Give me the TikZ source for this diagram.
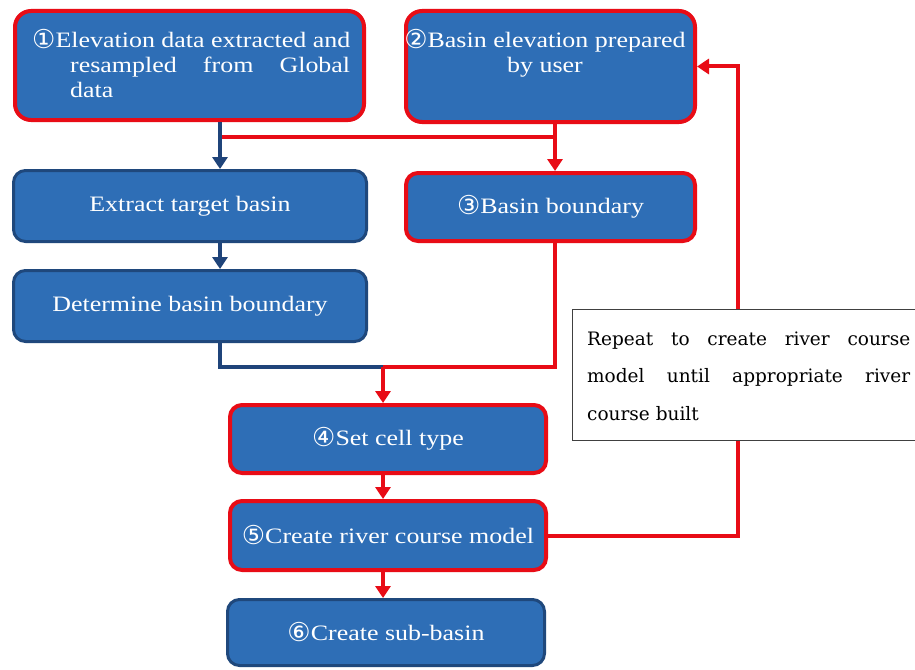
\documentclass[tikz,border=0pt]{standalone}
\usepackage{fontspec}
\setmainfont{Liberation Serif}
\newfontfamily\boxfont[FakeStretch=1.18]{Liberation Serif}
\newfontfamily\circfont{DejaVu Sans}
\newfontfamily\notefont{DejaVu Serif}
\usetikzlibrary{arrows.meta}
\definecolor{boxblue}{RGB}{46,110,182}
\definecolor{edgeblue}{RGB}{31,72,124}
\definecolor{linkblue}{RGB}{31,68,122}
\definecolor{linkred}{RGB}{232,12,22}
% circled step numbers
\newcommand{\stepno}[1]{{\circfont\fontsize{26}{25}\selectfont\raisebox{-1pt}{#1}}}

\begin{document}
\begin{tikzpicture}[x=1pt,y=-1pt,
  flowbox/.style={draw=edgeblue, line width=3pt, fill=boxblue, rounded corners=12pt,
    text=white, font=\boxfont\fontsize{22}{25}\selectfont, inner sep=0pt},
  userbox/.style={flowbox, draw=linkred, line width=4pt},
  boxtext/.style={text=white, font=\boxfont\fontsize{22}{25}\selectfont, inner sep=0pt},
  bluelink/.style={draw=linkblue, line width=3.5pt},
  redlink/.style={draw=linkred, line width=4pt},
  tip/.style={-{Triangle[width=15pt,length=12pt]}},
]
\useasboundingbox (0,0) rectangle (915,669);
\fill[white] (0,0) rectangle (915,669);

% ---- boxes ----
\node[userbox, rounded corners=16pt, minimum width=349pt, minimum height=109pt] (src1) at (189.5,65.5) {};
\node[userbox, rounded corners=16pt, minimum width=289pt, minimum height=111pt] (src2) at (550.5,66.5) {};
\node[flowbox, minimum width=353pt, minimum height=71pt] (ext) at (190,206) {Extract target basin};
\node[userbox, minimum width=289pt, minimum height=68pt] (bd3) at (550.5,207) {\stepno{③}Basin boundary};
\node[flowbox, minimum width=353pt, minimum height=71pt] (det) at (190,306) {Determine basin boundary};
\node[userbox, minimum width=316pt, minimum height=68pt] (cell) at (388,439) {\stepno{④}Set cell type};
\node[userbox, minimum width=316pt, minimum height=69pt] (river) at (388,535.5) {\stepno{⑤}Create river course model};
\node[flowbox, minimum width=317pt, minimum height=66pt] (sub) at (386,632.5) {\stepno{⑥}Create sub-basin};

% ---- texts of the two source boxes ----
\node[boxtext, anchor=north west, align=left] (src1t) at (32,29)
  {\makebox[318pt][s]{\stepno{①}Elevation data extracted and}\\
   \hspace*{38pt}\makebox[280pt][s]{resampled from Global}\\
   \hspace*{38pt}data};
\node[boxtext, anchor=north, align=center] (src2t) at (545,29)
  {\stepno{②}Basin elevation prepared\\by user};

% ---- junction points ----
\coordinate (j1) at (220,137);
\coordinate (j2) at (555,137);
\coordinate (m4) at (383,367);
\coordinate (rx) at (738,300);

% ---- connectors ----
\draw[redlink] (j1) -- (j2);
\draw[redlink, tip] (src2.south -| j2) -- (bd3.north -| j2);
\draw[bluelink, tip] (src1.south -| j1) -- (ext.north -| j1);
\draw[bluelink, tip] (ext.south -| j1) -- (det.north -| j1);
\draw[bluelink] (det.south -| j1) |- (m4);
\draw[redlink] (bd3.south -| j2) |- (m4);
\draw[redlink, tip] (m4) -- (cell.north -| m4);
\draw[redlink, tip] (cell.south -| m4) -- (river.north -| m4);
\draw[redlink, tip] (river.south -| m4) -- (sub.north -| m4);
\draw[redlink, tip] (river.east) -| (rx) |- (src2.east);

% ---- note ----
\node[draw=black!75, line width=1pt, fill=white, anchor=north west,
  minimum width=360pt, minimum height=131pt, inner sep=0pt] (note) at (572,309) {};
\node[anchor=north west, align=left, inner sep=0pt,
  font=\notefont\fontsize{18.5}{37.5}\selectfont] (notet) at (587,331.5)
  {\makebox[323pt][s]{Repeat to create river course}\\
   \makebox[323pt][s]{model until appropriate river}\\
   course built};
\end{tikzpicture}
\end{document}
